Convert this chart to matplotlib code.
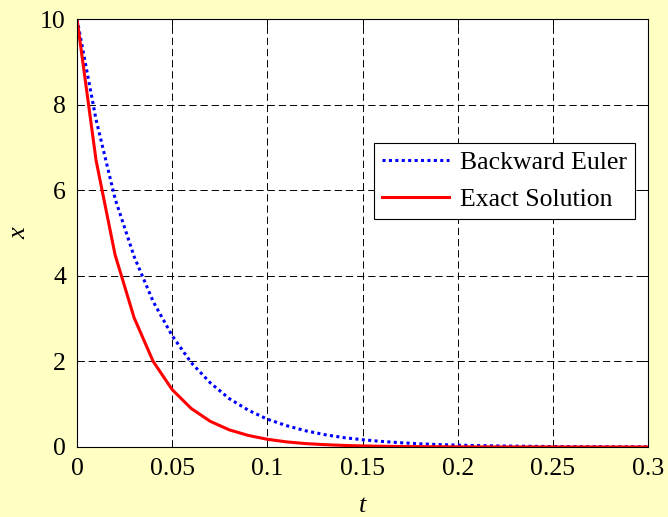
import numpy as np
import matplotlib.pyplot as plt

# step of 0.01 in t
t = np.round(np.arange(0, 0.31, 0.01), 2)
x_euler = [10, 7.65, 5.8, 4.45, 3.4, 2.6, 1.97, 1.5, 1.13, 0.86, 0.65,
           0.5, 0.38, 0.29, 0.22, 0.17, 0.13, 0.1, 0.075, 0.057, 0.044,
           0.034, 0.026, 0.02, 0.015, 0.011, 0.009, 0.007, 0.005, 0.004, 0.003]
x_exact = [10, 6.7, 4.49, 3.02, 2.0, 1.34, 0.9, 0.6, 0.4, 0.27, 0.18,
           0.12, 0.08, 0.055, 0.037, 0.025, 0.017, 0.011, 0.0075, 0.005, 0.0034,
           0.002, 0.0015, 0.001, 0.0007, 0.0005, 0.0003, 0.0002, 0.0001, 0.0001, 0.0]
labels = ['Backward Euler', 'Exact Solution']
xticks = [0, 0.05, 0.1, 0.15, 0.2, 0.25, 0.3]
xticklabels = ['0', '0.05', '0.1', '0.15', '0.2', '0.25', '0.3']
yticks = [0, 2, 4, 6, 8, 10]

plt.rcParams['font.family'] = ['Liberation Serif', 'DejaVu Serif']

bg = '#FFFFC4'
fig = plt.figure(figsize=(6.68, 5.17), dpi=100, facecolor=bg)
ax = fig.add_axes([0.1153, 0.1354, 0.8548, 0.8278])

ax.plot(t, x_euler, color='blue', linewidth=2.2, linestyle=(0, (1, 1.1)),
        label=labels[0])
ax.plot(t, x_exact, color='red', linewidth=2.2, linestyle='-',
        label=labels[1])

ax.set_xlim(0, 0.3)
ax.set_ylim(0, 10)
ax.set_xticks(xticks)
ax.set_xticklabels(xticklabels)
ax.set_yticks(yticks)
ax.grid(True, color='black', linestyle=(0, (7.5, 4)), linewidth=0.7)
ax.tick_params(direction='in', top=True, right=True, labelsize=18.5,
               length=5, width=0.7, pad=8)
for s in ax.spines.values():
    s.set_linewidth(0.8)

ax.set_xlabel('t', fontsize=19, style='italic', labelpad=11)
ax.set_ylabel('x', fontsize=19, style='italic', labelpad=7)

leg = ax.legend(loc='center right', bbox_to_anchor=(0.977, 0.622),
                fontsize=18.5, frameon=True, fancybox=False, edgecolor='black',
                framealpha=1, handlelength=2.6, borderpad=0.3,
                labelspacing=0.55, handletextpad=0.45, borderaxespad=0)
leg.get_frame().set_linewidth(0.8)

fig.savefig('out.png', dpi=100, facecolor=bg)
